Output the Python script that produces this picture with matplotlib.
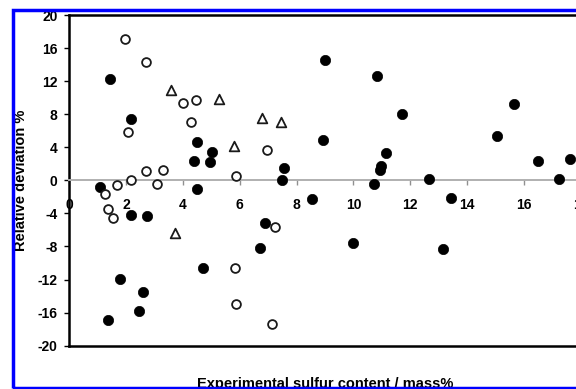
import matplotlib
matplotlib.use("Agg")
import matplotlib.pyplot as plt
from matplotlib.patches import Rectangle

plt.rcParams['font.family'] = ['Liberation Sans', 'DejaVu Sans']
plt.rcParams['font.weight'] = 'bold'
plt.rcParams['axes.unicode_minus'] = False

# filled circles
filled_x = [1.43, 2.17, 1.08, 2.16, 2.72, 1.78, 2.60, 2.44, 1.37,
            4.49, 5.01, 4.40, 4.96, 7.57, 7.47, 4.49, 8.53, 6.89, 6.72, 4.69,
            8.99, 10.84, 11.72, 8.94, 11.14, 10.97, 10.92, 10.74, 12.65, 9.99,
            13.42, 13.14, 15.65, 15.04, 16.49, 17.62, 17.22]
filled_y = [12.2, 7.4, -0.8, -4.2, -4.3, -11.9, -13.5, -15.8, -16.9,
            4.6, 3.4, 2.4, 2.2, 1.5, 0.05, -1.0, -2.2, -5.2, -8.2, -10.6,
            14.5, 12.6, 8.0, 4.9, 3.3, 1.7, 1.25, -0.4, 0.2, -7.6,
            -2.1, -8.3, 9.2, 5.4, 2.3, 2.6, 0.2]

# open circles
open_x = [1.96, 2.70, 3.99, 2.05, 2.70, 3.31, 1.26, 1.67, 2.16, 3.07,
          1.37, 1.53, 4.46, 4.28, 6.95, 5.85, 7.24, 5.83, 5.85, 7.14]
open_y = [17.1, 14.3, 9.3, 5.9, 1.1, 1.3, -1.6, -0.6, 0.0, -0.4,
          -3.5, -4.6, 9.7, 7.1, 3.7, 0.5, -5.6, -10.6, -14.9, -17.4]

# open triangles
tri_x = [3.57, 5.28, 6.79, 7.46, 5.80, 3.72]
tri_y = [10.9, 9.8, 7.5, 7.0, 4.1, -6.4]

x_ticks = list(range(0, 19, 2))
y_ticks = list(range(-20, 21, 4))

fig = plt.figure(figsize=(5.76, 3.89), dpi=100)
ax = fig.add_axes([0.1203, 0.1113, 0.888, 0.8501])

ax.scatter(filled_x, filled_y, s=55, c='black', edgecolors='black', linewidths=0.5, zorder=3)
ax.scatter(open_x, open_y, s=40, facecolors='white', edgecolors='#1a1a1a', linewidths=1.3, zorder=3)
ax.scatter(tri_x, tri_y, s=48, marker='^', facecolors='white', edgecolors='#1a1a1a', linewidths=1.3, zorder=3)

ax.set_xlim(0, 18)
ax.set_ylim(-20, 20)
ax.set_xticks(x_ticks)
ax.set_yticks(y_ticks)

# x axis crosses at zero
ax.spines['bottom'].set_position(('data', 0))
ax.spines['bottom'].set_color('#b0b0b0')
ax.spines['bottom'].set_linewidth(1.4)
ax.spines['left'].set_linewidth(1.8)
ax.spines['top'].set_linewidth(1.8)
ax.spines['right'].set_visible(False)
ax.plot([0, 1], [0, 0], transform=ax.transAxes, color='black', lw=1.8, clip_on=False)

ax.tick_params(axis='x', direction='out', length=3.5, width=1, color='#909090', pad=9, labelsize=10)
ax.tick_params(axis='y', direction='out', length=3.5, width=1, color='black', pad=5, labelsize=10)

ax.set_ylabel('Relative deviation %', fontsize=10.5, fontweight='bold', labelpad=7)
ax.set_xlabel('Experimental sulfur content / mass%', fontsize=10.5, fontweight='bold')
ax.xaxis.set_label_coords(0.5, -0.095)

border = Rectangle((0.0226, 0.0026), 1.2, 0.9714, transform=fig.transFigure, fill=False,
                   edgecolor='#0000ff', lw=2.5, zorder=10, clip_on=False)
fig.add_artist(border)

fig.savefig('out.png', dpi=100)
